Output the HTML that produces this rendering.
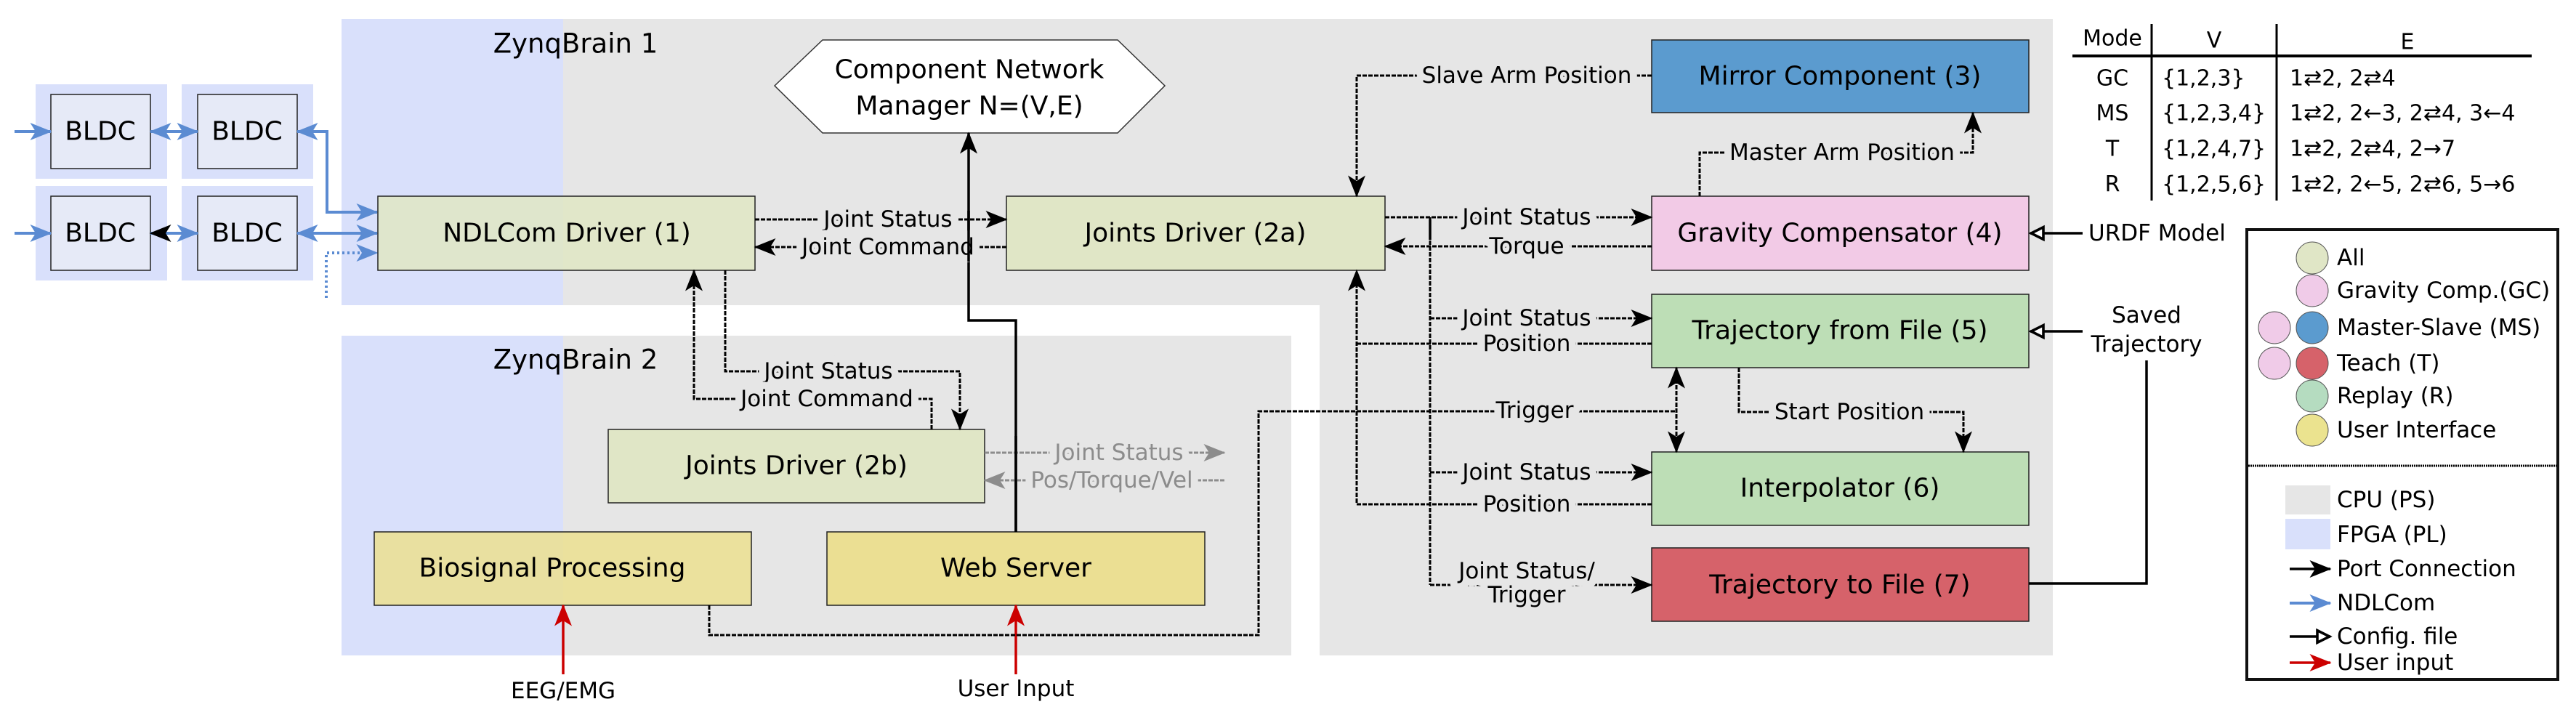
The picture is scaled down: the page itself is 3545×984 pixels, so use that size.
<!DOCTYPE html>
<html><head><meta charset="utf-8"><style>
html,body{margin:0;padding:0;background:#fff}
svg{display:block}
text{font-family:"DejaVu Sans","Liberation Sans",sans-serif;fill:#000}
.bx{font-size:36px;text-anchor:middle;dominant-baseline:central}
.lb{font-size:31px;text-anchor:middle;dominant-baseline:central;paint-order:stroke;stroke:#e6e6e6;stroke-width:20px;stroke-linejoin:round}
.lw{font-size:31px;dominant-baseline:central}
.d{fill:none;stroke:#000;stroke-width:3;stroke-dasharray:6,2}
.s{fill:none;stroke:#000;stroke-width:3.5}
.bl{fill:none;stroke:#5b8bd2;stroke-width:4}
.gr{fill:none;stroke:#8c8c8c;stroke-width:3;stroke-dasharray:6,2}
.box{stroke:#222;stroke-width:1.5}
</style></head><body>
<svg width="3545" height="984" viewBox="0 0 3545 984" xmlns="http://www.w3.org/2000/svg">
<defs>
<marker id="a" viewBox="0 0 20 16" refX="19" refY="8" markerWidth="30" markerHeight="24" markerUnits="userSpaceOnUse" orient="auto-start-reverse"><path d="M0,0 L20,8 L0,16 L5,8z" fill="#000"/></marker>
<marker id="ab" viewBox="0 0 20 16" refX="19" refY="8" markerWidth="30" markerHeight="24" markerUnits="userSpaceOnUse" orient="auto-start-reverse"><path d="M0,0 L20,8 L0,16 L5,8z" fill="#5b8bd2"/></marker>
<marker id="ag" viewBox="0 0 20 16" refX="19" refY="8" markerWidth="30" markerHeight="24" markerUnits="userSpaceOnUse" orient="auto-start-reverse"><path d="M0,0 L20,8 L0,16 L5,8z" fill="#8c8c8c"/></marker>
<marker id="ar" viewBox="0 0 20 16" refX="19" refY="8" markerWidth="30" markerHeight="24" markerUnits="userSpaceOnUse" orient="auto-start-reverse"><path d="M0,0 L20,8 L0,16 L5,8z" fill="#cc0000"/></marker>
<marker id="ao" viewBox="0 0 20 20" refX="18" refY="10" markerWidth="24" markerHeight="24" markerUnits="userSpaceOnUse" orient="auto"><path d="M3,3 L17,10 L3,17z" fill="#fff" stroke="#000" stroke-width="3"/></marker>
</defs>

<path d="M470,26 H2825 V902 H1816 V420 H470 Z" fill="#e6e6e6"/>
<rect x="470" y="462" width="1307" height="440" fill="#e6e6e6"/>
<rect x="470" y="26" width="305" height="394" fill="#d9e0fb"/>
<rect x="470" y="462" width="305" height="440" fill="#d9e0fb"/>
<text x="792" y="60" style="font-size:37px;text-anchor:middle;dominant-baseline:central">ZynqBrain 1</text>
<text x="792" y="495" style="font-size:37px;text-anchor:middle;dominant-baseline:central">ZynqBrain 2</text>

<rect x="49" y="116" width="181" height="130" fill="#d9e0fb"/>
<rect x="250" y="116" width="181" height="130" fill="#d9e0fb"/>
<rect x="49" y="256" width="181" height="130" fill="#d9e0fb"/>
<rect x="250" y="256" width="181" height="130" fill="#d9e0fb"/>
<rect x="70" y="130" width="137" height="102" fill="#e6eaf7" class="box"/>
<rect x="272" y="130" width="137" height="102" fill="#e6eaf7" class="box"/>
<rect x="70" y="270" width="137" height="102" fill="#e6eaf7" class="box"/>
<rect x="272" y="270" width="137" height="102" fill="#e6eaf7" class="box"/>
<text class="bx" x="138" y="181">BLDC</text>
<text class="bx" x="340" y="181">BLDC</text>
<text class="bx" x="138" y="321">BLDC</text>
<text class="bx" x="340" y="321">BLDC</text>
<path class="bl" d="M20,181 H70" marker-end="url(#ab)"/>
<path class="bl" d="M20,321 H70" marker-end="url(#ab)"/>
<path class="bl" d="M207,181 H272" marker-start="url(#ab)" marker-end="url(#ab)"/>
<path class="bl" d="M207,321 H272" marker-start="url(#a)" marker-end="url(#ab)"/>
<path class="bl" d="M409,181 H450 V292 H519" marker-start="url(#ab)" marker-end="url(#ab)"/>
<path class="bl" d="M409,321 H519" marker-start="url(#ab)" marker-end="url(#ab)"/>
<path class="bl" d="M449,410 V348 H519" stroke-dasharray="3,4" marker-end="url(#ab)"/>

<polygon points="1066,118 1132,55 1538,55 1603,118 1538,183 1132,183" fill="#fff" stroke="#333" stroke-width="1.5"/>
<text class="bx" x="1334" y="96">Component Network</text>
<text class="bx" x="1334" y="146">Manager N=(V,E)</text>
<rect x="520" y="270" width="519" height="102" fill="#dfe6c3" fill-opacity="0.85" class="box"/>
<text class="bx" x="780" y="321">NDLCom Driver (1)</text>
<rect x="1385" y="270" width="521" height="102" fill="#e0e6c6" class="box"/>
<text class="bx" x="1645" y="321">Joints Driver (2a)</text>
<rect x="837" y="591" width="518" height="101" fill="#e0e6c6" class="box"/>
<text class="bx" x="1096" y="641">Joints Driver (2b)</text>
<rect x="515" y="732" width="519" height="101" fill="#ebdf8f" fill-opacity="0.85" class="box"/>
<text class="bx" x="760" y="782">Biosignal Processing</text>
<rect x="1138" y="732" width="520" height="101" fill="#ebdf93" class="box"/>
<text class="bx" x="1398" y="782">Web Server</text>
<rect x="2273" y="55" width="519" height="100" fill="#5b9bcf" class="box"/>
<text class="bx" x="2532" y="105">Mirror Component (3)</text>
<rect x="2273" y="270" width="519" height="102" fill="#f2cae6" class="box"/>
<text class="bx" x="2532" y="321">Gravity Compensator (4)</text>
<rect x="2273" y="405" width="519" height="101" fill="#bddeb6" class="box"/>
<text class="bx" x="2532" y="455">Trajectory from File (5)</text>
<rect x="2273" y="622" width="519" height="101" fill="#bddeb6" class="box"/>
<text class="bx" x="2532" y="672">Interpolator (6)</text>
<rect x="2273" y="754" width="519" height="101" fill="#d6626a" class="box"/>
<text class="bx" x="2532" y="805">Trajectory to File (7)</text>

<path class="d" d="M1039,302 H1385" marker-end="url(#a)"/>
<path class="d" d="M1385,340 H1039" marker-end="url(#a)"/>
<path class="s" d="M1398,732 V441 H1333 V183" marker-end="url(#a)"/>
<text class="lb" x="1222" y="302">Joint Status</text>
<text class="lb" x="1222" y="340">Joint Command</text>
<path class="s" d="M1333,290 V360"/>
<path class="d" d="M998,372 V511 H1321 V591" marker-end="url(#a)"/>
<path class="d" d="M1282,591 V549 H955 V372" marker-end="url(#a)"/>
<text class="lb" x="1140" y="511">Joint Status</text>
<text class="lb" x="1138" y="549">Joint Command</text>
<path class="gr" d="M1355,623 H1685" marker-end="url(#ag)"/>
<path class="gr" d="M1685,661 H1355" marker-end="url(#ag)"/>
<text class="lb" x="1540" y="623" style="fill:#8c8c8c">Joint Status</text>
<text class="lb" x="1530" y="661" style="fill:#8c8c8c">Pos/Torque/Vel</text>
<path d="M1398,600 V732" class="s"/>
<path d="M775,928 V833" fill="none" stroke="#cc0000" stroke-width="3.5" marker-end="url(#ar)"/>
<path d="M1398,928 V833" fill="none" stroke="#cc0000" stroke-width="3.5" marker-end="url(#ar)"/>
<text x="775" y="951" style="font-size:31px;text-anchor:middle;dominant-baseline:central">EEG/EMG</text>
<text x="1398" y="948" style="font-size:31px;text-anchor:middle;dominant-baseline:central">User Input</text>
<path class="d" d="M976,833 V874 H1732 V566 H2307"/>
<path class="d" d="M2307,506 V622" marker-start="url(#a)" marker-end="url(#a)"/>
<text class="lb" x="2112" y="565">Trigger</text>

<path class="d" d="M2273,104 H1867 V270" marker-end="url(#a)"/>
<text class="lb" x="2101" y="104">Slave Arm Position</text>
<path class="d" d="M2339,270 V210 H2715 V155" marker-end="url(#a)"/>
<text class="lb" x="2535" y="210">Master Arm Position</text>
<path class="d" d="M1906,299 H2273" marker-end="url(#a)"/>
<path class="d" d="M2273,339 H1906" marker-end="url(#a)"/>
<path class="d" d="M1968,299 V805"/>
<path class="s" d="M1968,302 V330"/>
<path class="d" d="M1968,438 H2273" marker-end="url(#a)"/>
<path class="d" d="M1968,650 H2273" marker-end="url(#a)"/>
<path class="d" d="M1968,805 H2273" marker-end="url(#a)"/>
<path class="d" d="M2273,473 H1867"/>
<path class="d" d="M2273,694 H1867 V372" marker-end="url(#a)"/>
<text class="lb" x="2101" y="299">Joint Status</text>
<text class="lb" x="2101" y="339">Torque</text>
<text class="lb" x="2101" y="438">Joint Status</text>
<text class="lb" x="2101" y="473">Position</text>
<text class="lb" x="2101" y="650">Joint Status</text>
<text class="lb" x="2101" y="694">Position</text>
<text class="lb" x="2101" y="786">Joint Status/</text>
<text class="lb" x="2101" y="819">Trigger</text>
<path class="d" d="M2393,506 V567 H2702 V622" marker-end="url(#a)"/>
<text class="lb" x="2545" y="567">Start Position</text>

<path class="s" d="M2866,321 H2794" marker-end="url(#ao)"/>
<text class="lw" x="2874" y="321">URDF Model</text>
<path class="s" d="M2866,456 H2794" marker-end="url(#ao)"/>
<text x="2954" y="434" style="font-size:31px;text-anchor:middle;dominant-baseline:central">Saved</text>
<text x="2954" y="474" style="font-size:31px;text-anchor:middle;dominant-baseline:central">Trajectory</text>
<path class="s" d="M2792,803 H2954 V496"/>

<g style="font-size:30px;dominant-baseline:central">
<text x="2907" y="53" text-anchor="middle">Mode</text>
<text x="3047" y="56" text-anchor="middle">V</text>
<text x="3313" y="58" text-anchor="middle">E</text>
<text x="2907" y="108" text-anchor="middle">GC</text>
<text x="2907" y="156" text-anchor="middle">MS</text>
<text x="2907" y="205" text-anchor="middle">T</text>
<text x="2907" y="254" text-anchor="middle">R</text>
<text x="2975" y="108">{1,2,3}</text>
<text x="2975" y="156">{1,2,3,4}</text>
<text x="2975" y="205">{1,2,4,7}</text>
<text x="2975" y="254">{1,2,5,6}</text>
<text x="3151" y="108">1⇄2, 2⇄4</text>
<text x="3151" y="156">1⇄2, 2←3, 2⇄4, 3←4</text>
<text x="3151" y="205">1⇄2, 2⇄4, 2→7</text>
<text x="3151" y="254">1⇄2, 2←5, 2⇄6, 5→6</text>
</g>
<path d="M2852,77 H3484" stroke="#000" stroke-width="4"/>
<path d="M2961,33 V276 M3133,33 V276" stroke="#000" stroke-width="3"/>

<rect x="3092" y="316" width="428" height="619" fill="#fff" stroke="#111" stroke-width="4"/>
<path d="M3094,641 H3518" stroke="#000" stroke-width="3" stroke-dasharray="2,1"/>
<g stroke="#555" stroke-width="1">
<ellipse cx="3182" cy="355" rx="22" ry="22" fill="#e0e6c6"/>
<ellipse cx="3182" cy="400" rx="22" ry="22" fill="#f0cbe8"/>
<ellipse cx="3130" cy="451" rx="22" ry="22" fill="#f0cbe8"/>
<ellipse cx="3182" cy="451" rx="22" ry="22" fill="#5b9bcf"/>
<ellipse cx="3130" cy="500" rx="22" ry="22" fill="#f0cbe8"/>
<ellipse cx="3182" cy="500" rx="22" ry="22" fill="#d6626a"/>
<ellipse cx="3182" cy="545" rx="22" ry="22" fill="#b5dcc0"/>
<ellipse cx="3182" cy="592" rx="22" ry="22" fill="#ebe38f"/>
</g>
<g style="font-size:31px;dominant-baseline:central">
<text x="3216" y="355">All</text>
<text x="3216" y="400">Gravity Comp.(GC)</text>
<text x="3216" y="451">Master-Slave (MS)</text>
<text x="3216" y="500">Teach (T)</text>
<text x="3216" y="545">Replay (R)</text>
<text x="3216" y="592">User Interface</text>
<text x="3216" y="688">CPU (PS)</text>
<text x="3216" y="736">FPGA (PL)</text>
<text x="3216" y="783">Port Connection</text>
<text x="3216" y="830">NDLCom</text>
<text x="3216" y="876">Config. file</text>
<text x="3216" y="912">User input</text>
</g>
<rect x="3145" y="668" width="62" height="40" fill="#e6e6e6"/>
<rect x="3145" y="714" width="62" height="42" fill="#d9e0fb"/>
<path class="s" d="M3151,783 H3207" marker-end="url(#a)"/>
<path class="bl" d="M3151,830 H3207" marker-end="url(#ab)"/>
<path class="s" d="M3151,876 H3207" marker-end="url(#ao)"/>
<path d="M3151,912 H3207" fill="none" stroke="#cc0000" stroke-width="3.5" marker-end="url(#ar)"/>
</svg>
</body></html>
